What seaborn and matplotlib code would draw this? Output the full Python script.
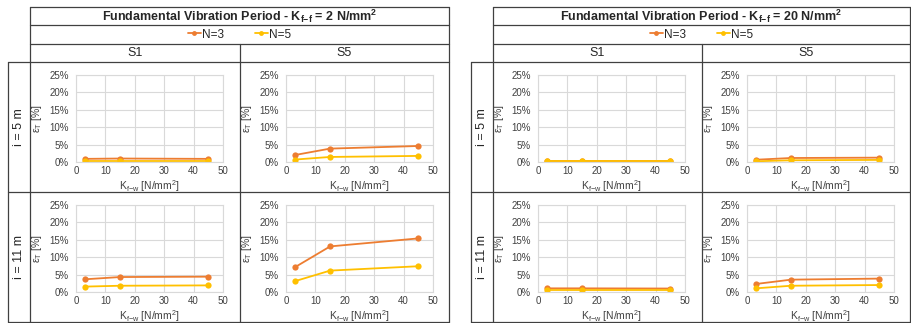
import numpy as np
import pandas as pd
import matplotlib.pyplot as plt
import seaborn as sns
from matplotlib.lines import Line2D

# data (values in %)
kfw = [3, 15, 45]
series_names = ["N=3", "N=5"]
row_labels = ["i = 5 m", "i = 11 m"]
col_labels = ["S1", "S5"]
kff_values = [2, 20]

# Kf-f = 2 N/mm2
kff2_i5_s1_n3 = [0.9, 1.0, 0.9]
kff2_i5_s1_n5 = [0.3, 0.3, 0.3]
kff2_i5_s5_n3 = [2.0, 3.85, 4.6]
kff2_i5_s5_n5 = [0.7, 1.45, 1.75]
kff2_i11_s1_n3 = [3.65, 4.3, 4.4]
kff2_i11_s1_n5 = [1.55, 1.8, 1.9]
kff2_i11_s5_n3 = [7.1, 13.1, 15.4]
kff2_i11_s5_n5 = [3.1, 6.15, 7.4]

# Kf-f = 20 N/mm2
kff20_i5_s1_n3 = [0.3, 0.3, 0.3]
kff20_i5_s1_n5 = [0.2, 0.2, 0.2]
kff20_i5_s5_n3 = [0.65, 1.15, 1.25]
kff20_i5_s5_n5 = [0.2, 0.5, 0.6]
kff20_i11_s1_n3 = [1.05, 1.05, 1.0]
kff20_i11_s1_n5 = [0.5, 0.5, 0.5]
kff20_i11_s5_n3 = [2.3, 3.55, 3.85]
kff20_i11_s5_n5 = [1.05, 1.8, 2.0]

data = {
    (2, 0, 0): (kff2_i5_s1_n3, kff2_i5_s1_n5),
    (2, 0, 1): (kff2_i5_s5_n3, kff2_i5_s5_n5),
    (2, 1, 0): (kff2_i11_s1_n3, kff2_i11_s1_n5),
    (2, 1, 1): (kff2_i11_s5_n3, kff2_i11_s5_n5),
    (20, 0, 0): (kff20_i5_s1_n3, kff20_i5_s1_n5),
    (20, 0, 1): (kff20_i5_s5_n3, kff20_i5_s5_n5),
    (20, 1, 0): (kff20_i11_s1_n3, kff20_i11_s1_n5),
    (20, 1, 1): (kff20_i11_s5_n3, kff20_i11_s5_n5),
}

rows = []
for (kff, r, c), (n3, n5) in data.items():
    for name, vals in zip(series_names, (n3, n5)):
        for x, v in zip(kfw, vals):
            rows.append({"kff": kff, "row": r, "col": c, "N": name, "Kfw": x, "eps": v})
df = pd.DataFrame(rows)

colores = {"N=3": "#ED7D31", "N=5": "#FFC000"}

sns.set_style("white")
plt.rcParams["font.family"] = ["Liberation Sans", "DejaVu Sans"]
plt.rcParams["mathtext.fontset"] = "custom"
plt.rcParams["mathtext.rm"] = "Liberation Sans"
plt.rcParams["mathtext.bf"] = "Liberation Sans:bold"

W, H = 911, 323
fig = plt.figure(figsize=(W / 100, H / 100), dpi=100)
fig.patch.set_facecolor("white")


def fx(x):
    return x / W


def fy(y):
    return 1 - y / H


def linea(x0, y0, x1, y1):
    fig.add_artist(Line2D([fx(x0), fx(x1)], [fy(y0), fy(y1)], color="#404040", lw=0.9,
                          transform=fig.transFigure))


table_left = [8, 471]       # left edge of row-label column
inner_left = [30, 493]      # left edge of title / S1 cell
split_x = [240, 702]
right_edge = [449, 910]
y_top, y_tit, y_leg, y_head, y_mid, y_bot = 7, 25, 44, 62, 192, 322
plot_top = [75, 205]
plot_h = 87

for t, kff in enumerate(kff_values):
    L, I, S, R = table_left[t], inner_left[t], split_x[t], right_edge[t]
    # grid of the table
    for y in (y_top, y_tit, y_leg):
        linea(I, y, R, y)
    for y in (y_head, y_mid, y_bot):
        linea(L, y, R, y)
    linea(I, y_top, I, y_bot)
    linea(R, y_top, R, y_bot)
    linea(L, y_head, L, y_bot)
    linea(S, y_leg, S, y_bot)

    fig.text(fx((I + R) / 2), fy((y_top + y_tit) / 2),
             r"Fundamental Vibration Period - K$_\mathbf{f{-}f}$ = %d N/mm$^\mathbf{2}$" % kff,
             ha="center", va="center", fontsize=9, fontweight="bold")
    fig.text(fx((I + S) / 2), fy((y_leg + y_head) / 2), col_labels[0],
             ha="center", va="center", fontsize=9)
    fig.text(fx((S + R) / 2), fy((y_leg + y_head) / 2), col_labels[1],
             ha="center", va="center", fontsize=9)
    for r, lab in enumerate(row_labels):
        yc = (y_head + y_mid) / 2 if r == 0 else (y_mid + y_bot) / 2
        fig.text(fx((L + I) / 2), fy(yc), lab, rotation=90,
                 ha="center", va="center", fontsize=9)

    handles = [Line2D([], [], color=colores[n], marker="o", markersize=3.5, lw=1.3,
                      markeredgewidth=0) for n in series_names]
    fig.legend(handles, series_names, loc="center",
               bbox_to_anchor=(fx((I + R) / 2), fy((y_tit + y_leg) / 2)),
               ncol=2, frameon=False, fontsize=8.5, handlelength=1.1,
               handletextpad=0.1, columnspacing=2.6, borderpad=0)

    for r in range(2):
        for c in range(2):
            cell_left = I if c == 0 else S
            x0 = cell_left + (46 if t == 0 else 45)
            ax = fig.add_axes([fx(x0), fy(plot_top[r] + plot_h), fx(147), plot_h / H])
            sub = df[(df["kff"] == kff) & (df["row"] == r) & (df["col"] == c)]
            sns.lineplot(data=sub, x="Kfw", y="eps", hue="N", palette=colores,
                         marker="o", markersize=4.5, markeredgewidth=0, linewidth=1.3,
                         ax=ax, legend=False)
            ax.set_xlim(0, 50)
            ax.set_ylim(0, 25)
            ax.set_xticks(range(0, 51, 10))
            ax.set_yticks(range(0, 26, 5))
            ax.set_yticklabels([f"{v}%" for v in range(0, 26, 5)])
            ax.grid(True, color="#D9D9D9", lw=0.8)
            ax.set_axisbelow(True)
            for sp in ax.spines.values():
                sp.set_color("#D9D9D9")
                sp.set_linewidth(0.8)
            ax.tick_params(length=0, labelsize=7, colors="#404040")
            ax.tick_params(axis="x", pad=3)
            ax.tick_params(axis="y", pad=5)
            ax.set_xlabel(r"K$_\mathregular{f{-}w}$ [N/mm$^\mathregular{2}$]", fontsize=7.5,
                          color="#404040")
            ax.set_ylabel(r"ε$_\mathregular{T}$ [%]", fontsize=7.5, color="#404040")
            ax.xaxis.set_label_coords(0.5, -0.185)
            ax.yaxis.set_label_coords(-0.215, 0.5)

fig.savefig("out.png", dpi=100, facecolor="white")
